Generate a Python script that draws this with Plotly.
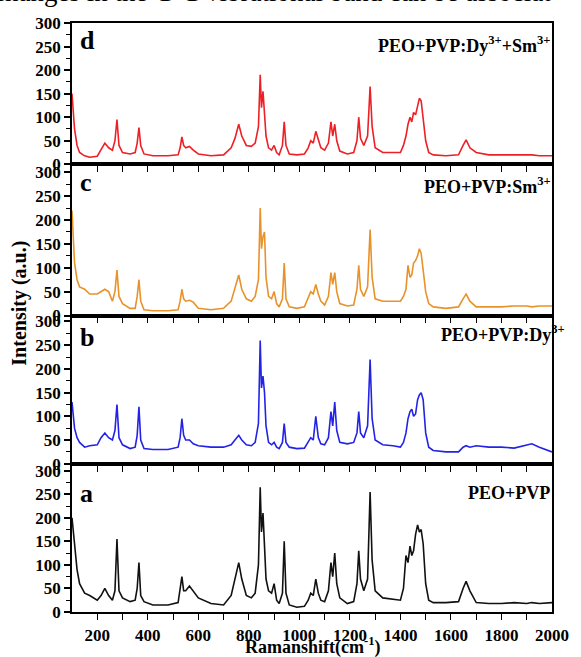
import plotly.graph_objects as go

# Raman shift sample positions (cm^-1)
wn = [100,105,110,120,130,150,170,200,215,230,245,260,270,278,286,300,330,350,358,365,
      372,385,420,480,520,528,535,542,550,565,580,600,650,700,730,745,760,772,790,810,
      825,838,845,850,856,862,868,878,890,900,910,920,933,940,947,960,990,1020,1035,1045,
      1055,1065,1075,1085,1100,1115,1125,1132,1140,1148,1160,1190,1215,1228,1235,1242,1255,1270,1280,1288,
      1300,1330,1370,1400,1412,1422,1430,1438,1445,1452,1460,1468,1475,1482,1490,1500,1512,1530,1580,1630,
      1648,1660,1675,1700,1750,1800,1850,1900,1920,1950,2000]

# d : PEO+PVP:Dy3+ + Sm3+
int_d = [150,110,75,40,25,18,15,17,30,45,35,30,50,95,40,25,22,25,45,78,
         40,22,18,18,20,35,58,40,35,38,30,22,18,20,35,55,85,60,40,38,
         45,80,190,120,155,100,60,35,30,40,25,20,40,90,40,22,20,22,35,50,
         45,70,50,35,30,45,90,60,85,50,28,22,25,50,100,55,40,60,165,80,
         35,25,25,25,40,60,85,100,90,110,105,125,140,135,100,50,25,20,18,20,
         40,52,35,25,20,20,20,20,20,18,18]

# c : PEO+PVP:Sm3+
int_c = [220,150,110,75,60,55,45,45,50,55,50,30,50,95,40,25,15,15,40,75,
         30,12,10,10,12,30,55,35,30,32,28,15,12,15,30,55,85,55,35,30,
         40,75,225,140,165,175,80,40,35,50,25,18,35,110,35,18,15,18,35,50,
         45,65,45,30,22,40,90,65,90,50,25,20,22,55,105,55,40,60,180,80,
         35,30,30,30,40,55,105,80,85,110,115,125,140,130,95,50,25,18,15,18,
         35,45,30,18,18,18,20,20,18,20,20]

# b : PEO+PVP:Dy3+
int_b = [130,100,75,55,45,35,38,40,55,65,55,50,70,125,55,40,32,35,60,120,
         50,32,30,30,35,55,95,60,50,50,42,38,35,35,40,50,60,50,40,38,
         45,85,260,160,185,150,80,45,40,45,35,32,45,85,45,35,32,33,45,55,
         50,100,55,42,40,55,110,80,130,70,45,42,45,65,110,65,55,80,220,95,
         50,40,38,35,45,65,95,110,115,100,105,135,145,150,135,65,35,28,25,25,
         35,38,35,38,35,35,33,40,42,35,25]

# a : PEO+PVP
int_a = [200,170,140,90,60,40,35,25,35,50,35,25,45,155,45,30,22,25,50,105,
         35,22,15,15,20,45,75,45,45,55,45,30,18,15,35,70,105,70,35,30,
         40,100,265,170,210,140,70,45,40,60,25,18,40,150,40,15,10,12,25,40,
         35,70,40,25,22,45,105,75,125,60,30,18,22,60,130,70,45,70,255,110,
         45,30,28,25,50,120,105,140,120,130,165,185,170,175,145,60,25,20,20,22,
         50,65,45,20,18,18,20,18,20,18,20]

panel_letters = ["a", "b", "c", "d"]
panel_labels = ["PEO+PVP", "PEO+PVP:Dy<sup>3+</sup>", "PEO+PVP:Sm<sup>3+</sup>",
                "PEO+PVP:Dy<sup>3+</sup>+Sm<sup>3+</sup>"]
series = [int_a, int_b, int_c, int_d]
colors = ["#111111", "#2323e6", "#e8922a", "#ee1f25"]

y_ticks = [0, 50, 100, 150, 200, 250, 300]
x_ticks = [200, 400, 600, 800, 1000, 1200, 1400, 1600, 1800, 2000]
x_minor = [200, 300, 400, 500, 600, 700, 800, 900, 1000, 1100, 1200, 1300, 1400,
           1500, 1600, 1700, 1800, 1900]

# layout geometry (pixels)
W, H = 581, 657
L, R, T, B = 72, 19, 23, 42
plot_h = H - T - B
# panel pixel bottoms/tops (a, b, c, d)
pix = [(615, 466), (466, 317), (317, 165), (165, 23)]
ytops = [314.8, 312.6, 316.7, 300]

def py(p):
    return (H - B - p) / plot_h

def px(p):
    return (p - L) / (W - L - R)

serif = "Liberation Serif"
fig = go.Figure()
for i in range(4):
    sfx = "" if i == 0 else str(i + 1)
    fig.add_trace(go.Scatter(x=wn, y=series[i], mode="lines",
                             line=dict(color=colors[i], width=1.6),
                             xaxis="x" + sfx, yaxis="y" + sfx, showlegend=False,
                             hoverinfo="skip"))
    bot, top = pix[i]
    xa = dict(
        domain=[0, 1], range=[100, 2000], anchor="y" + sfx,
        showline=True, mirror=True, linecolor="black", linewidth=1.5,
        ticks="", tickvals=x_ticks,
        minor=dict(tickvals=x_minor, ticklen=6,
                   ticks="outside", tickcolor="black", tickwidth=1.4),
        showticklabels=(i == 0), showgrid=False, zeroline=False,
        tickfont=dict(family=serif, size=17, color="black", weight="bold"),
    )
    if i == 0:
        xa["ticklabelstandoff"] = 7
    else:
        xa["matches"] = "x"
    fig.layout["xaxis" + sfx] = xa
    fig.layout["yaxis" + sfx] = dict(
        domain=[py(bot), py(top)], range=[0, ytops[i]], anchor="x" + sfx,
        showline=True, mirror=True, linecolor="black", linewidth=1.5,
        ticks="outside", tickvals=y_ticks, ticklen=6, tickwidth=1.5, tickcolor="black",
        minor=dict(tickvals=[25 + 50 * k for k in range(6)], ticklen=4,
                   ticks="outside", tickcolor="black", tickwidth=1.2),
        showgrid=False, zeroline=False,
        tickfont=dict(family=serif, size=17, color="black", weight="bold"),
    )

letter_pos = [496, 339, 183, 41]
label_pos = [(562, 495), (577, 335), (563, 186), (562, 45)]
ann = []
for i in range(4):
    ann.append(dict(text=panel_letters[i], x=px(78), y=py(letter_pos[i]), xref="paper",
                    yref="paper", xanchor="left", yanchor="middle", showarrow=False,
                    font=dict(family=serif, size=26, color="black", weight="bold")))
    lx, ly = label_pos[i]
    ann.append(dict(text=panel_labels[i], x=px(lx), y=py(ly), xref="paper",
                    yref="paper", xanchor="right", yanchor="middle", showarrow=False,
                    font=dict(family=serif, size=18, color="black", weight="bold")))

ann.append(dict(text="Intensity (a.u.)", x=px(18), y=py(305), xref="paper", yref="paper",
                xanchor="center", yanchor="middle", textangle=-90, showarrow=False,
                font=dict(family=serif, size=20, color="black", weight="bold")))
ann.append(dict(text="Ramanshift(cm<sup>-1</sup>)", x=px(318), y=py(649), xref="paper",
                yref="paper", xanchor="center", yanchor="middle", showarrow=False,
                font=dict(family=serif, size=18, color="black", weight="bold")))
ann.append(dict(text="changes in the C-C vibrational band can be associat", x=px(-11),
                y=py(-8), xref="paper", yref="paper", xanchor="left", yanchor="middle",
                showarrow=False, font=dict(family=serif, size=27, color="black")))

fig.update_layout(width=W, height=H, margin=dict(l=L, r=R, t=T, b=B),
                  paper_bgcolor="white", plot_bgcolor="white", annotations=ann)
fig.write_html("out.html", config={"displayModeBar": False},
               post_script="document.body.style.margin='0';document.body.style.overflow='hidden';")
